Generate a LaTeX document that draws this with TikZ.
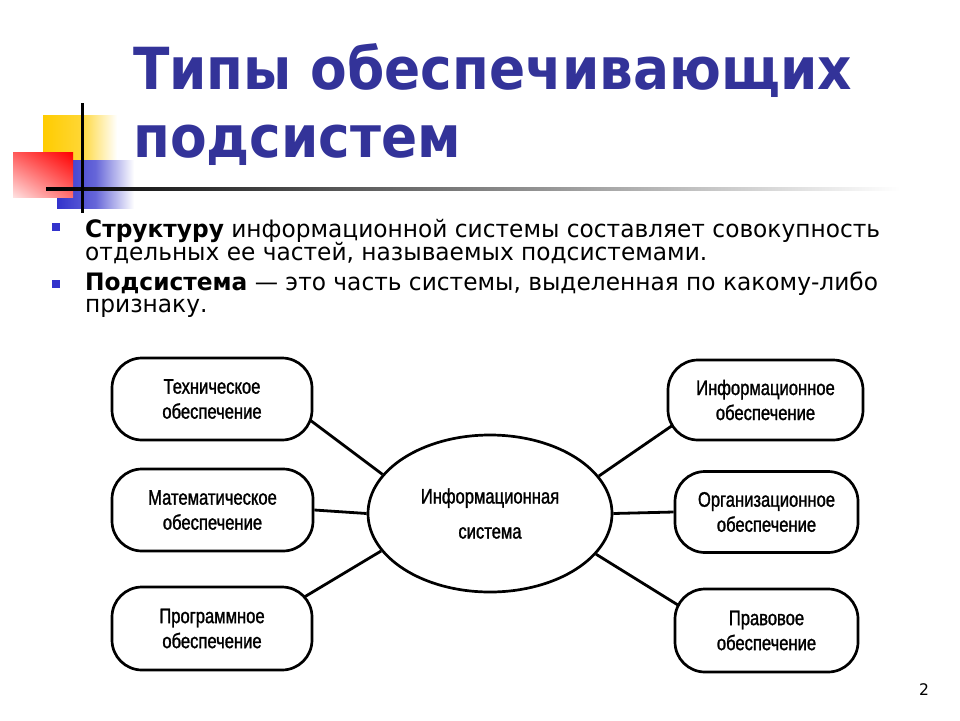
\documentclass[tikz,border=0pt]{standalone}
\usepackage{fontspec}
\usetikzlibrary{shapes.geometric,backgrounds,calc,shadings}
\newfontfamily\bodyfont{DejaVu Sans}[FakeStretch=0.97]
\newfontfamily\titlefont{DejaVu Sans}[FakeStretch=0.92]
\newfontfamily\boxfont{Liberation Sans}[FakeStretch=0.79,FakeBold=1.3]
\definecolor{titleblue}{RGB}{51,51,153}
\definecolor{bulletblue}{RGB}{51,51,204}
\definecolor{decoyellow}{RGB}{255,204,0}
\definecolor{decoblue}{RGB}{51,51,204}
\pgfdeclarelayer{bottom}
\pgfsetlayers{bottom,background,main}
\tikzset{
  subbox/.style={draw=black, line width=2.7pt, fill=white, rounded corners=30pt,
    align=center, inner sep=0pt, font=\boxfont\fontsize{21}{25}\selectfont},
  sysell/.style={draw=black, line width=2.7pt, fill=white, ellipse,
    align=center, inner sep=0pt, minimum width=244pt, minimum height=157pt,
    font=\boxfont\fontsize{21}{35}\selectfont},
  link/.style={draw=black, line width=2.8pt},
  titletext/.style={anchor=base west, inner sep=0pt, text=titleblue,
    font=\titlefont\bfseries\fontsize{58}{58}\selectfont},
  bodytext/.style={anchor=base west, inner sep=0pt, text=black,
    font=\bodyfont\fontsize{24}{24}\selectfont},
  bulletsq/.style={fill=bulletblue, draw=none}
}
\begin{document}
\begin{tikzpicture}[x=1pt,y=-1pt]
\useasboundingbox (0,0) rectangle (960,720);
\begin{pgfonlayer}{bottom}
\fill[white] (0,0) rectangle (960,720);
\end{pgfonlayer}
% decoration
\shade[left color=decoyellow, right color=white, middle color=decoyellow!80] (43,115) rectangle (117,162);
\shade[left color=decoblue, right color=white, middle color=decoblue!75] (57,160) rectangle (134,208);
\shade[upper right={rgb,255:red,255;green,0;blue,0}, upper left={rgb,255:red,255;green,90;blue,90},
       lower right={rgb,255:red,255;green,110;blue,110}, lower left={rgb,255:red,255;green,225;blue,225}] (13,152) rectangle (73,197);
\shade[left color=black, middle color=gray!80, right color=white] (46,187) rectangle (900,190);
\draw[line width=3pt, black] (82,103) -- (82,213);
% title
\node[titletext] (t1) at (133,89) {Типы обеспечивающих};
\node[titletext] (t2) at (133,157) {подсистем};
% body
\fill[bulletsq] (52,223) rectangle (60,231);
\fill[bulletsq] (52,280) rectangle (60,288);
\node[bodytext] (p1) at (85,237) {\textbf{Структуру} информационной системы составляет совокупность};
\node[bodytext] (p2) at (85,260) {отдельных ее частей, называемых подсистемами.};
\node[bodytext] (p3) at (85,290) {\textbf{Подсистема} — это часть системы, выделенная по какому-либо};
\node[bodytext] (p4) at (85,312) {признаку.};
% diagram
\node[sysell] (ell) at (490,513.5) {Информационная\\система};
\node[subbox, minimum width=200pt, minimum height=82pt] (b1) at (212,399) {Техническое\\обеспечение};
\node[subbox, minimum width=201pt, minimum height=82pt] (b2) at (212.5,510) {Математическое\\обеспечение};
\node[subbox, minimum width=200pt, minimum height=83pt] (b3) at (212,628.5) {Программное\\обеспечение};
\node[subbox, minimum width=195pt, minimum height=80pt] (r1) at (765.5,400) {Информационное\\обеспечение};
\node[subbox, minimum width=183pt, minimum height=81pt] (r2) at (766.5,512) {Организационное\\обеспечение};
\node[subbox, minimum width=183pt, minimum height=83pt] (r3) at (766.5,630.5) {Правовое\\обеспечение};
\begin{scope}[on background layer]
\draw[link] (ell.160) -- ($(b1.center)+(90,15)$);
\draw[link] (ell.west) -- (b2.east);
\draw[link] (ell.199) -- ($(b3.center)+(84,-26.5)$);
\draw[link] (ell.19) -- ($(r1.center)+(-84.5,19.5)$);
\draw[link] (ell.east) -- (r2.west);
\draw[link] (ell.-21) -- ($(r3.center)+(-80.5,-20.5)$);
\end{scope}
% page number
\node[anchor=base west, inner sep=0pt, font=\bodyfont\fontsize{16}{16}\selectfont] (pn) at (919,695) {2};
\end{tikzpicture}
\end{document}
